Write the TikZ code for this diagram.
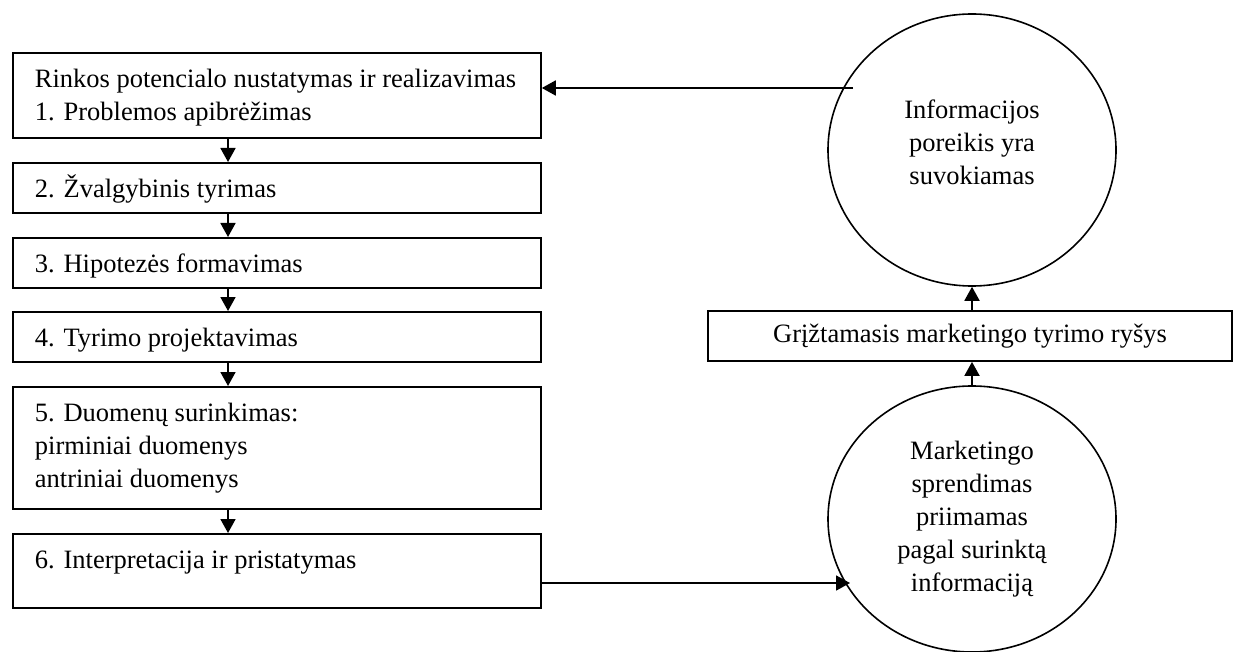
\documentclass[tikz,border=0pt]{standalone}
\usepackage{fontspec}
\setmainfont{Liberation Serif}
\usetikzlibrary{arrows.meta,shapes.geometric}

% top-aligned, left-indented text block of a given height inside a step box
\newcommand\steptext[2]{\parbox[c][#1][t]{528pt}{\leftskip=22pt\rule{0pt}{34.5pt}#2}}

\begin{document}
\begin{tikzpicture}[x=1pt,y=-1pt,
  every node/.style={font=\fontsize{26.5}{33}\selectfont},
  stepbox/.style={draw, line width=1.8pt, anchor=north west, inner sep=0pt},
  oval/.style={draw, ellipse, line width=1.6pt, minimum width=288pt, inner sep=0pt, align=center},
  fbbox/.style={draw, line width=1.8pt, minimum width=524pt, minimum height=50pt, inner sep=0pt},
  arr/.style={line width=1.8pt, -{Triangle[length=14pt,width=15pt]}}]

\useasboundingbox (0,0) rectangle (1241,652);

% research steps
\node[stepbox] (b1) at (12,52)  {\steptext{85pt}{Rinkos potencialo nustatymas ir realizavimas\\1. Problemos apibrėžimas}};
\node[stepbox] (b2) at (12,162) {\steptext{50pt}{2. Žvalgybinis tyrimas}};
\node[stepbox] (b3) at (12,237) {\steptext{50pt}{3. Hipotezės formavimas}};
\node[stepbox] (b4) at (12,311) {\steptext{50pt}{4. Tyrimo projektavimas}};
\node[stepbox] (b5) at (12,386) {\steptext{122pt}{5. Duomenų surinkimas:\\pirminiai duomenys\\antriniai duomenys}};
\node[stepbox] (b6) at (12,533) {\steptext{74pt}{6. Interpretacija ir pristatymas}};

\coordinate (ax) at (228,0);
\foreach \a/\b in {b1/b2,b2/b3,b3/b4,b4/b5,b5/b6}
  \draw[arr] (\a.south -| ax) -- (\b.north -| ax);

% feedback loop
\node[oval, minimum height=272pt] (need) at (972,150)
  {Informacijos\\poreikis yra\\suvokiamas\rule[-16pt]{0pt}{16pt}};
\node[fbbox] (fb) at (970,336) {Grįžtamasis marketingo tyrimo ryšys};
\node[oval, minimum height=266pt] (dec) at (972,519)
  {Marketingo\\sprendimas\\priimamas\\pagal surinktą\\informaciją};

\draw[arr] (dec.north) -- (dec.north |- fb.south);
\draw[arr] (fb.north -| need.south) -- (need.south);

\coordinate (t1) at (853,88);
\coordinate (t2) at (850,583);
\draw[arr] (t1) -- (t1 -| b1.east);
\draw[arr] (t2 -| b6.east) -- (t2);
\end{tikzpicture}
\end{document}
